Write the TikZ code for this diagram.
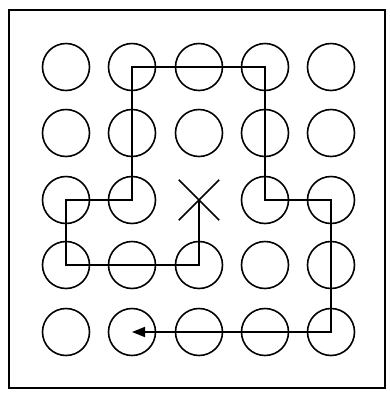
\documentclass[tikz,border=0pt]{standalone}
\usetikzlibrary{arrows.meta}
\begin{document}
\begin{tikzpicture}[x=1pt,y=-1pt,
  dot/.style={circle,draw,line width=1.6pt,minimum size=47pt,inner sep=0pt},
  frame/.style={draw,line width=1.6pt},
  route/.style={draw,line width=1.6pt,-{Triangle[length=13pt,width=10pt]}}]
\useasboundingbox (0,0) rectangle (390,400);
\draw[frame] (9,10) rectangle (385,388);
\foreach \r/\y in {1/67,2/133,3/200,4/265,5/332}{
  \foreach \c/\x in {1/66,2/132,3/199,4/265,5/331}{
    \ifnum\r=3 \ifnum\c=3 \else
      \node[dot] (c-\r-\c) at (\x,\y) {};
    \fi\else
      \node[dot] (c-\r-\c) at (\x,\y) {};
    \fi
  }
}
\node[inner sep=0pt,minimum size=40pt] (x) at (199,200) {};
\draw[line width=1.6pt] (x.north west) -- (x.south east) (x.north east) -- (x.south west);
\draw[route] (x.center) -- (c-4-3.center) -- (c-4-1.center) -- (c-3-1.center)
  -- (c-3-2.center) -- (c-1-2.center) -- (c-1-4.center) -- (c-3-4.center)
  -- (c-3-5.center) -- (c-5-5.center) -- (c-5-2.center);
\end{tikzpicture}
\end{document}
